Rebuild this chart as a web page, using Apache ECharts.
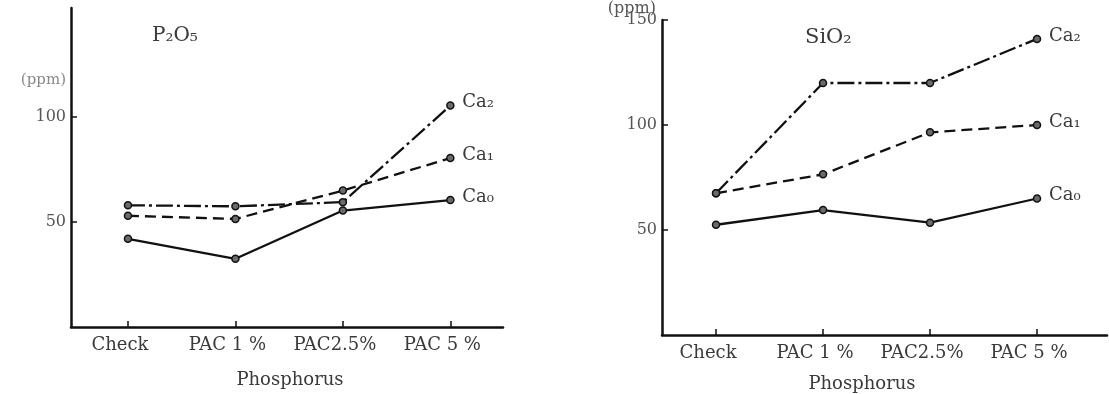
<!DOCTYPE html>
<html>
<head>
<meta charset="utf-8">
<script src="https://cdn.jsdelivr.net/npm/echarts@6/dist/echarts.min.js"></script>
<style>
html,body{margin:0;padding:0;background:#fff;}
#chart{width:1109px;height:394px;}
</style>
</head>
<body>
<div id="chart"></div>
<script>
// ---- data ----
const categories = ['Check', 'PAC 1 %', 'PAC2.5%', 'PAC 5 %'];
const seriesNames = ['Ca₂', 'Ca₁', 'Ca₀'];
// P2O5 (ppm)
const p2o5_Ca2 = [58, 57.5, 59.5, 105.5];
const p2o5_Ca1 = [53, 51.5, 65, 80.5];
const p2o5_Ca0 = [42, 32.5, 55.5, 60.5];
// SiO2 (ppm)
const sio2_Ca2 = [67.5, 120, 120, 141];
const sio2_Ca1 = [67.5, 76.5, 96.5, 100];
const sio2_Ca0 = [52.5, 59.5, 53.5, 65];
const leftYTicks = [50, 100];
const rightYTicks = [50, 100, 150];
const xTickIdx = categories.map((c, i) => i);

const FONT = '"DejaVu Serif", "Liberation Serif", serif';
const INK = '#111';
const TXT = '#3a3a3a';

const lineTypes = [[17, 4, 3, 4], [11, 6], 'solid'];

function mkSeries(vals, name, k, axisIdx) {
  return {
    type: 'line', name: name,
    xAxisIndex: axisIdx, yAxisIndex: axisIdx,
    data: vals.map((v, i) => [i, v]),
    symbol: 'circle', symbolSize: 7,
    itemStyle: { color: '#6a6a6a', borderColor: INK, borderWidth: 1.5 },
    lineStyle: { color: INK, width: 2.3, type: lineTypes[k] },
    endLabel: {
      show: true, formatter: '{a}', distance: 12, offset: [0, -3],
      color: TXT, fontFamily: FONT, fontSize: 18
    },
    animation: false, z: 3
  };
}

function xAxisCfg(grid, min, max) {
  return {
    type: 'value', gridIndex: grid, min: min, max: max,
    axisLine: { show: true, onZero: false, lineStyle: { color: INK, width: 2.5 } },
    axisTick: { show: true, inside: true, length: 6, customValues: xTickIdx, lineStyle: { color: INK, width: 1.5 } },
    axisLabel: {
      customValues: xTickIdx, formatter: v => categories[Math.round(v)],
      color: TXT, fontFamily: FONT, fontSize: 18, margin: 9, padding: [0, 16, 0, 0]
    },
    splitLine: { show: false }
  };
}
function yAxisCfg(grid, max, ticks) {
  return {
    type: 'value', gridIndex: grid, min: 0, max: max,
    axisLine: { show: true, onZero: false, lineStyle: { color: INK, width: 2.5 } },
    axisTick: { show: true, inside: true, length: 6, customValues: ticks, lineStyle: { color: INK, width: 1.5 } },
    axisLabel: { customValues: ticks, color: '#555', fontFamily: FONT, fontSize: 16, margin: 5 },
    splitLine: { show: false }
  };
}

const chart = echarts.init(document.getElementById('chart'));
chart.setOption({
  backgroundColor: '#fff',
  animation: false,
  grid: [
    { left: 71, top: 8, width: 432, height: 319 },
    { left: 662, top: 20, width: 445, height: 315 }
  ],
  xAxis: [xAxisCfg(0, -0.53, 3.49), xAxisCfg(1, -0.505, 3.654)],
  yAxis: [yAxisCfg(0, 152, leftYTicks), yAxisCfg(1, 150, rightYTicks)],
  series: [
    mkSeries(p2o5_Ca2, seriesNames[0], 0, 0),
    mkSeries(p2o5_Ca1, seriesNames[1], 1, 0),
    mkSeries(p2o5_Ca0, seriesNames[2], 2, 0),
    mkSeries(sio2_Ca2, seriesNames[0], 0, 1),
    mkSeries(sio2_Ca1, seriesNames[1], 1, 1),
    mkSeries(sio2_Ca0, seriesNames[2], 2, 1)
  ],
  graphic: [
    { type: 'text', x: 152, y: 36, style: { text: 'P₂O₅', font: '20px ' + FONT, fill: TXT, textVerticalAlign: 'middle' } },
    { type: 'text', x: 805, y: 38, style: { text: 'SiO₂', font: '21px ' + FONT, fill: TXT, textVerticalAlign: 'middle' } },
    { type: 'text', x: 66, y: 80, style: { text: '(ppm)', font: '15px ' + FONT, fill: '#888', textAlign: 'right', textVerticalAlign: 'middle' } },
    { type: 'text', x: 656, y: 9, style: { text: '(ppm)', font: '16px ' + FONT, fill: '#555', textAlign: 'right', textVerticalAlign: 'middle' } },
    { type: 'text', x: 290, y: 380, style: { text: 'Phosphorus', font: '18px ' + FONT, fill: TXT, textAlign: 'center', textVerticalAlign: 'middle' } },
    { type: 'text', x: 862, y: 384, style: { text: 'Phosphorus', font: '18px ' + FONT, fill: TXT, textAlign: 'center', textVerticalAlign: 'middle' } }
  ]
});
</script>
</body>
</html>
